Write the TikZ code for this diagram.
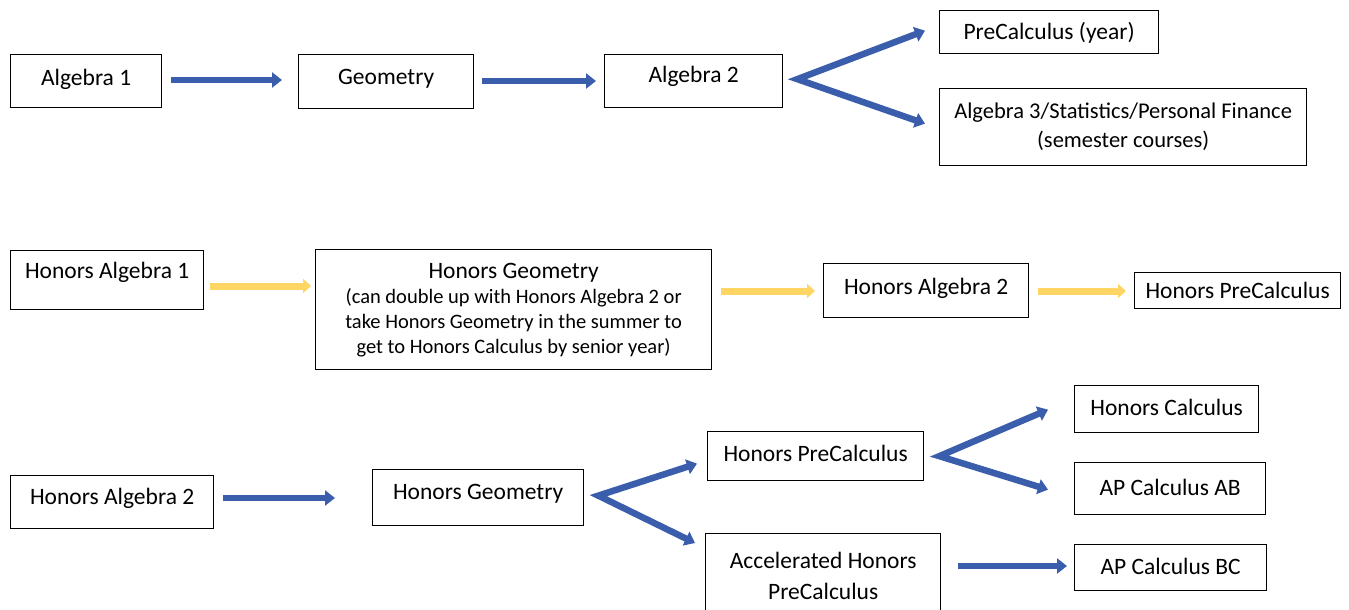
\documentclass[tikz,border=0pt]{standalone}
\usepackage{fontspec}
\setmainfont{Carlito}
\usetikzlibrary{arrows.meta}
\usetikzlibrary{calc}
\definecolor{flowblue}{RGB}{59,94,172}
\definecolor{flowgold}{RGB}{255,214,100}
\newcommand{\coursefont}{\fontsize{23.5pt}{25pt}\selectfont}
\newcommand{\notefont}{\fontsize{20.5pt}{25pt}\selectfont}
\tikzset{course/.style = {draw, line width=1.3pt, inner sep=0pt, align=center,
                          anchor=north west, font=\coursefont}}
\tikzset{oneline/.style = {text height=16pt, text depth=#1}}
\tikzset{bflow/.style = {draw=flowblue, line width=6.5pt, line join=miter,
                         -{Triangle[length=10pt,width=15pt]}}}
\tikzset{btwo/.style = {bflow, {Triangle[length=10pt,width=15pt]}-{Triangle[length=10pt,width=15pt]}}}
\tikzset{yflow/.style = {draw=flowgold, line width=7pt,
                         -{Triangle[length=8pt,width=14pt]}}}

\begin{document}
\begin{tikzpicture}[x=1pt, y=-1pt]
        \useasboundingbox (0,0) rectangle (1349,610);
        % regular track
        \node[course, oneline=8pt, minimum width=151pt, minimum height=53pt] (alga) at (10,54) {Algebra 1};
        \node[course, oneline=11pt, minimum width=175pt, minimum height=54pt] (geom) at (298,54) {Geometry};
        \node[course, oneline=13pt, minimum width=178pt, minimum height=53pt] (algb) at (604,54) {Algebra 2};
        \node[course, oneline=1pt, minimum width=219pt, minimum height=43pt] (prec) at (939,10) {PreCalculus (year)};
        \node[course, font=\fontsize{22.5pt}{25pt}\selectfont, minimum width=367pt, minimum height=77pt] (algc) at (939,88)
          {Algebra 3/Statistics/Personal Finance\\[4pt](semester courses)};
        \draw[bflow, shorten <=9pt, shorten >=16pt] (alga.east |- 0,80) -- (geom.west |- 0,80);
        \draw[bflow, shorten <=8pt, shorten >=8pt] (geom.east |- 0,81) -- (algb.west |- 0,81);
        \coordinate (fka) at ($(algb.east)+(14,-2)$);
        \draw[btwo] ($(prec.west)+(-14,-1.5)$) -- (fka) -- ($(algc.west)+(-14,-3.5)$);
        % honors track
        \node[course, oneline=20pt, minimum width=193pt, minimum height=59pt] (halga) at (10,250) {Honors Algebra 1};
        \node[course, minimum width=396pt, minimum height=120pt] (hgeom) at (315,249)
          {Honors Geometry\\{\notefont (can double up with Honors Algebra 2 or}\\{\notefont take Honors Geometry in the summer to}\\{\notefont get to Honors Calculus by senior year)}};
        \node[course, oneline=9pt, minimum width=205pt, minimum height=54pt] (halgb) at (823,263) {Honors Algebra 2};
        \node[course, oneline=1pt, minimum width=206pt, minimum height=36pt] (hprec) at (1134,272) {Honors PreCalculus};
        \draw[yflow, shorten <=6pt, shorten >=4pt] (halga.east |- 0,286) -- (hgeom.west |- 0,286);
        \draw[yflow, shorten <=9pt, shorten >=8pt] (hgeom.east |- 0,291) -- (halgb.west |- 0,291);
        \draw[yflow, shorten <=9pt, shorten >=8pt] (halgb.east |- 0,291) -- (hprec.west |- 0,291);
        % accelerated track
        \node[course, oneline=12pt, minimum width=203pt, minimum height=53pt] (hatwo) at (10,475) {Honors Algebra 2};
        \node[course, oneline=13pt, minimum width=211pt, minimum height=56pt] (hgeo) at (372,469) {Honors Geometry};
        \node[course, oneline=6pt, minimum width=216pt, minimum height=49pt] (hpre) at (707,431) {Honors PreCalculus};
        \node[course, minimum width=235pt, minimum height=85pt] (accel) at (705,533)
          {Accelerated Honors\\[6pt]PreCalculus};
        \node[course, oneline=4pt, minimum width=184pt, minimum height=47pt] (hcalc) at (1074,385) {Honors Calculus};
        \node[course, oneline=3pt, minimum width=191pt, minimum height=52pt] (calab) at (1074,462) {AP Calculus AB};
        \node[course, oneline=3pt, minimum width=192pt, minimum height=46pt] (calbc) at (1074,544) {AP Calculus BC};
        \draw[bflow, shorten <=9pt, shorten >=37pt] (hatwo.east |- 0,498) -- (hgeo.west |- 0,498);
        \coordinate (fkb) at ($(hgeo.east)+(14,-2)$);
        \draw[btwo] ($(hpre.west)+(-10,7.5)$) -- (fkb) -- ($(accel.north west)+(-10,10)$);
        \coordinate (fkc) at ($(hpre.east)+(15,0)$);
        \draw[btwo] ($(hcalc.west)+(-26,0.5)$) -- (fkc) -- ($(calab.west)+(-26,1)$);
        \draw[bflow, shorten <=17pt, shorten >=7pt] (accel.east |- 0,566) -- (calbc.west |- 0,566);
      \end{tikzpicture}
\end{document}
